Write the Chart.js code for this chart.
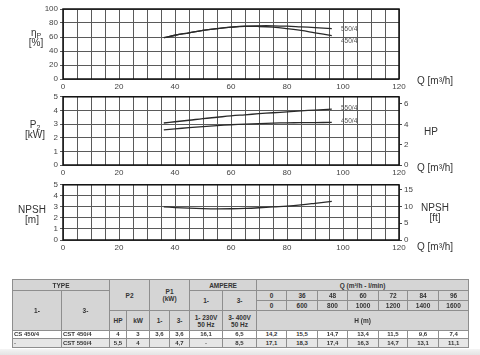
<!DOCTYPE html>
<html><head><meta charset="utf-8">
<script src="https://cdn.jsdelivr.net/npm/chart.js@4.4.0/dist/chart.umd.min.js"></script>
<style>
html,body{margin:0;padding:0;background:#fff;}
body{width:480px;height:355px;position:relative;overflow:hidden;font-family:Arial,"Liberation Sans",sans-serif;}
canvas{position:absolute;left:0;}
.lbl{position:absolute;font-size:10px;color:#333;text-align:center;line-height:10px;white-space:nowrap;}
.lbl sub{font-size:7px;vertical-align:-2px;line-height:0;}
.cl{position:absolute;font-size:6.5px;color:#555;white-space:nowrap;line-height:7px;}
table{position:absolute;left:12px;top:279px;width:456px;border-collapse:collapse;table-layout:fixed;font-size:6.5px;font-weight:bold;color:#333;}
td{border:1px solid #8e8e8e;padding:0;text-align:center;background:#d5d5d5;line-height:7px;overflow:hidden;white-space:nowrap;}
tr.d1 td{background:#fff;font-size:6px;}
tr.d2 td{background:#e6e6e6;font-size:6px;}
td.l{text-align:left;padding-left:1px;}
#band{position:absolute;left:0;top:349px;width:480px;height:6px;background:linear-gradient(#f4f4f4,#e4e4e4);}
</style></head>
<body>
<canvas id="c1" width="480" height="95" style="top:0px"></canvas>
<canvas id="c2" width="480" height="91" style="top:90px"></canvas>
<canvas id="c3" width="480" height="78" style="top:178px"></canvas>

<div class="lbl" style="left:24px;top:28px;width:24px;">η<sub>P</sub><br>[%]</div>
<div class="lbl" style="left:417px;top:76px;">Q [m³/h]</div>
<div class="lbl" style="left:22px;top:120px;width:26px;">P<sub>2</sub><br>[kW]</div>
<div class="lbl" style="left:424px;top:127px;">HP</div>
<div class="lbl" style="left:417px;top:163px;">Q [m³/h]</div>
<div class="lbl" style="left:16px;top:205px;width:32px;">NPSH<br>[m]</div>
<div class="lbl" style="left:420px;top:203px;width:30px;">NPSH<br>[ft]</div>
<div class="lbl" style="left:417px;top:242px;">Q [m³/h]</div>

<div class="cl" style="left:341px;top:25px;">550/4</div>
<div class="cl" style="left:341px;top:37px;">450/4</div>
<div class="cl" style="left:341px;top:104px;">550/4</div>
<div class="cl" style="left:341px;top:117px;">450/4</div>

<table id="tbl">
<colgroup>
<col style="width:49px"><col style="width:48px"><col style="width:17px"><col style="width:23px"><col style="width:20px"><col style="width:20px"><col style="width:33px"><col style="width:34px">
<col style="width:30px"><col style="width:31px"><col style="width:30px"><col style="width:31px"><col style="width:29px"><col style="width:31px"><col style="width:30px">
</colgroup>
<tbody id="tb"></tbody>
</table>
<div id="band"></div>

<script>
// ---- curve data ----
const flow = [36, 40, 45, 50, 55, 60, 65, 70, 75, 80, 85, 90, 96];
const eta550 = [59, 62.5, 66, 69.5, 72, 74, 75.5, 76, 76, 75.5, 74.5, 73.5, 72];
const eta450 = [59, 62.5, 66, 69.5, 72, 74, 75.2, 75, 74, 72, 69.5, 66, 62];
const power550 = [3.08, 3.17, 3.28, 3.4, 3.5, 3.6, 3.68, 3.76, 3.83, 3.9, 3.97, 4.03, 4.1];
const power450 = [2.58, 2.65, 2.74, 2.82, 2.89, 2.95, 3.0, 3.04, 3.07, 3.09, 3.1, 3.11, 3.12];
const npsh = [3.0, 2.94, 2.88, 2.84, 2.82, 2.83, 2.86, 2.92, 3.0, 3.07, 3.18, 3.32, 3.5];

// ---- right-axis tick labels ----
const hpTicks = [0, 2, 4, 6];
const ftTicks = [0, 5, 10, 15];

// ---- table data ----
const typeSingle = ['CS 450/4', '-'];
const typeThree = ['CST 450/4', 'CST 550/4'];
const p2hp = ['4', '5,5'];
const p2kw = ['3', '4'];
const p1single = ['3,6', ''];
const p1three = ['3,6', '4,7'];
const ampSingle = ['16,1', '-'];
const ampThree = ['6,5', '8,5'];
const qM3h = [0, 36, 48, 60, 72, 84, 96];
const qLmin = [0, 600, 800, 1000, 1200, 1400, 1600];
const head450 = ['14,2', '15,5', '14,7', '13,4', '11,5', '9,6', '7,4'];
const head550 = ['17,1', '18,3', '17,4', '16,3', '14,7', '13,1', '11,1'];

const KW_PER_HP = 0.7457, M_PER_FT = 0.3048;

const pts = (ys) => flow.map((x, i) => ({x, y: ys[i]}));
const tickFont = {family: 'Arial, "Liberation Sans", sans-serif', size: 8};
const frame = {
  id: 'frame',
  afterDraw(c) {
    const a = c.chartArea, ctx = c.ctx;
    ctx.save(); ctx.strokeStyle = '#111'; ctx.lineWidth = 1.5;
    ctx.strokeRect(a.left, a.top, a.right - a.left, a.bottom - a.top);
    ctx.restore();
  }
};
function ds(ys) {
  return {data: pts(ys), borderColor: '#2a2a2a', borderWidth: 1.3, pointRadius: 0, tension: 0.4, fill: false};
}
function make(id, datasets, yMax, yStep, padTop, xH, right) {
  const scales = {
    x: {type: 'linear', min: 0, max: 120,
        ticks: {stepSize: 5, autoSkip: false, maxRotation: 0, padding: 3, color: '#444', font: tickFont,
                callback: v => (v % 20 === 0 ? v : '')},
        grid: {color: '#5a5a5a', lineWidth: 1, drawTicks: false},
        border: {display: false},
        afterFit: s => { s.height = xH; }},
    y: {min: 0, max: yMax,
        ticks: {stepSize: yStep, autoSkip: false, padding: 2, color: '#444', font: tickFont},
        grid: {color: '#5a5a5a', lineWidth: 1, tickLength: 3},
        border: {display: false},
        afterFit: s => { s.width = 63; }}
  };
  if (right) {
    scales.y2 = {position: 'right', min: 0, max: right.max,
      afterBuildTicks: s => { s.ticks = right.ticks.map(v => ({value: v})); },
      ticks: {autoSkip: false, padding: 2, color: '#444', font: tickFont, callback: v => v},
      grid: {drawOnChartArea: false, color: '#444', tickLength: 3},
      border: {display: false},
      afterFit: s => { s.width = 20; }};
  }
  return new Chart(document.getElementById(id), {
    type: 'line',
    data: {datasets},
    options: {
      responsive: false, animation: false, devicePixelRatio: 1,
      layout: {padding: {left: 0, top: padTop, bottom: 0, right: right ? 61 : 81}},
      plugins: {legend: {display: false}, tooltip: {enabled: false}},
      scales
    },
    plugins: [frame]
  });
}
make('c1', [ds(eta550), ds(eta450)], 100, 20, 9, 16, null);
make('c2', [ds(power550), ds(power450)], 5, 1, 6, 16, {max: 5 / KW_PER_HP, ticks: hpTicks});
make('c3', [ds(npsh)], 5, 1, 5, 16, {max: 5 / M_PER_FT, ticks: ftTicks});

// ---- build table ----
const tb = document.getElementById('tb');
let h = '';
h += '<tr style="height:11px"><td colspan="2">TYPE</td><td colspan="2" rowspan="3">P2</td><td colspan="2" rowspan="3">P1<br>(kW)</td><td colspan="2">AMPERE</td><td colspan="7">Q (m³/h - l/min)</td></tr>';
h += '<tr style="height:10px"><td rowspan="3">1-</td><td rowspan="3">3-</td><td rowspan="2">1-</td><td rowspan="2">3-</td>' + qM3h.map(v => '<td>' + v + '</td>').join('') + '</tr>';
h += '<tr style="height:10px">' + qLmin.map(v => '<td>' + v + '</td>').join('') + '</tr>';
h += '<tr style="height:20px"><td>HP</td><td>kW</td><td>1-</td><td>3-</td><td>1- 230V<br>50 Hz</td><td>3- 400V<br>50 Hz</td><td colspan="7">H (m)</td></tr>';
const heads = [head450, head550];
for (let r = 0; r < 2; r++) {
  h += '<tr class="d' + (r + 1) + '" style="height:' + (r ? 9 : 8) + 'px"><td class="l">' + typeSingle[r] + '</td><td class="l">' + typeThree[r] + '</td><td>' + p2hp[r] + '</td><td>' + p2kw[r] + '</td><td>' + p1single[r] + '</td><td>' + p1three[r] + '</td><td>' + ampSingle[r] + '</td><td>' + ampThree[r] + '</td>' + heads[r].map(v => '<td>' + v + '</td>').join('') + '</tr>';
}
tb.innerHTML = h;
</script>
</body></html>
